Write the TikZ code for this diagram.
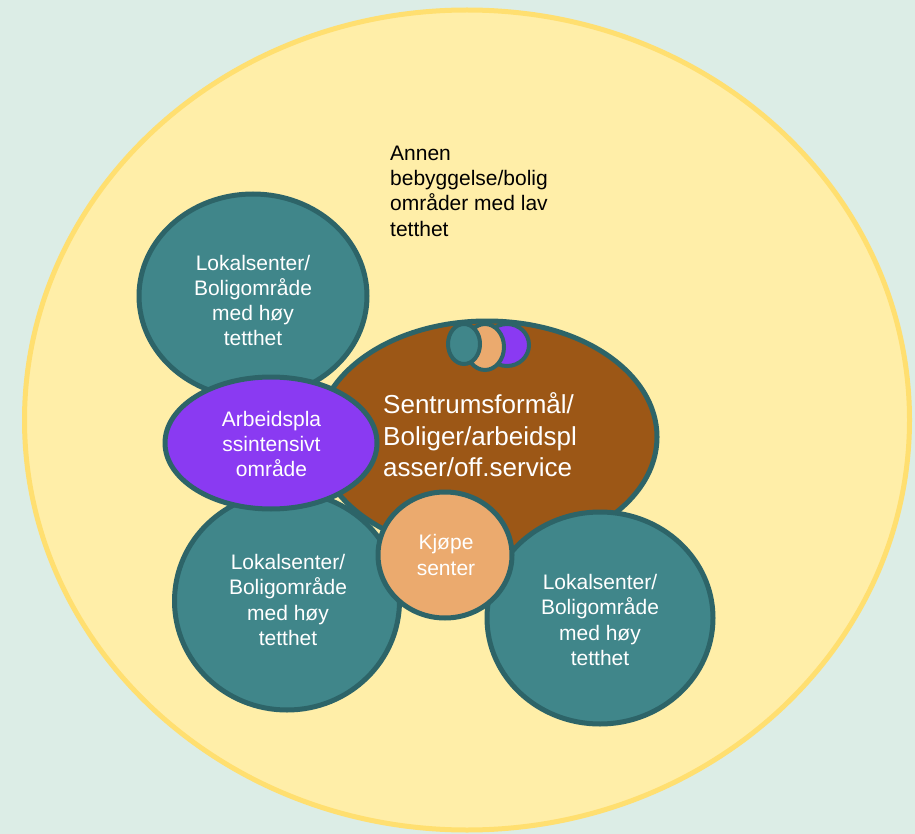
\documentclass[tikz,border=0pt]{standalone}
\usepackage{fontspec}
\setmainfont{Liberation Sans}
\usetikzlibrary{shapes.geometric}
\definecolor{bgc}{HTML}{DCEDE6}
\definecolor{yfill}{HTML}{FFEEA8}
\definecolor{ydraw}{HTML}{FFDF70}
\definecolor{tealf}{HTML}{40868A}
\definecolor{teald}{HTML}{2D6468}
\definecolor{brownf}{HTML}{9C5716}
\definecolor{purplef}{HTML}{8A3AF2}
\definecolor{orangef}{HTML}{EBAA6E}
\tikzset{
  blob/.style={ellipse, draw=teald, line width=5pt, inner sep=0pt, outer sep=0pt},
  tealblob/.style={blob, fill=tealf},
  smalltxt/.style={text=white, align=center, inner sep=0pt, font=\fontsize{21}{25.3}\selectfont},
  bigtxt/.style={text=white, align=left, inner sep=0pt, anchor=west, font=\fontsize{26}{31.5}\selectfont},
  blacktxt/.style={text=black, align=left, inner sep=0pt, anchor=west, font=\fontsize{21}{25.3}\selectfont}
}
\begin{document}
\begin{tikzpicture}[x=1pt,y=-1pt]
\useasboundingbox (0,0) rectangle (915,834);
\fill[bgc] (0,0) rectangle (915,834);
\node[ellipse, fill=yfill, draw=ydraw, line width=5pt, inner sep=0pt, minimum width=885pt, minimum height=820pt] (outer) at (467,420) {};
\node[blob, fill=brownf, minimum width=340pt, minimum height=232pt] (centre) at (487,437) {};
\node[tealblob, minimum width=228pt, minimum height=204pt] (tl) at (253,296) {};
\node[tealblob, minimum width=225pt, minimum height=218pt] (bl) at (287,601) {};
\node[tealblob, minimum width=226pt, minimum height=212pt] (rt) at (600,618) {};
\node[blob, fill=purplef, minimum width=212pt, minimum height=132pt] (arb) at (271,443) {};
\node[blob, fill=orangef, minimum width=134pt, minimum height=126pt] (kj) at (445,555) {};
\node[blob, fill=purplef, line width=4pt, minimum width=44pt, minimum height=42pt] (sp) at (507,345) {};
\node[blob, fill=orangef, line width=4pt, minimum width=38pt, minimum height=46pt] (so) at (485,347) {};
\node[blob, fill=tealf, line width=4pt, minimum width=32pt, minimum height=40pt] (st) at (464,344) {};
\node[blacktxt] (annen) at (390,191) {Annen\\bebyggelse/bolig\\områder med lav\\tetthet};
\node[smalltxt] (tltxt) at (253,300.5) {Lokalsenter/\\Boligområde\\med høy\\tetthet};
\node[smalltxt] (bltxt) at (288,600) {Lokalsenter/\\Boligområde\\med høy\\tetthet};
\node[smalltxt] (rttxt) at (600,620) {Lokalsenter/\\Boligområde\\med høy\\tetthet};
\node[smalltxt] (arbtxt) at (271.5,444) {Arbeidspla\\ssintensivt\\område};
\node[smalltxt] (kjtxt) at (446,555) {Kjøpe\\senter};
\node[bigtxt] (centretxt) at (383,435) {Sentrumsformål/\\Boliger/arbeidspl\\asser/off.service};
\end{tikzpicture}
\end{document}
